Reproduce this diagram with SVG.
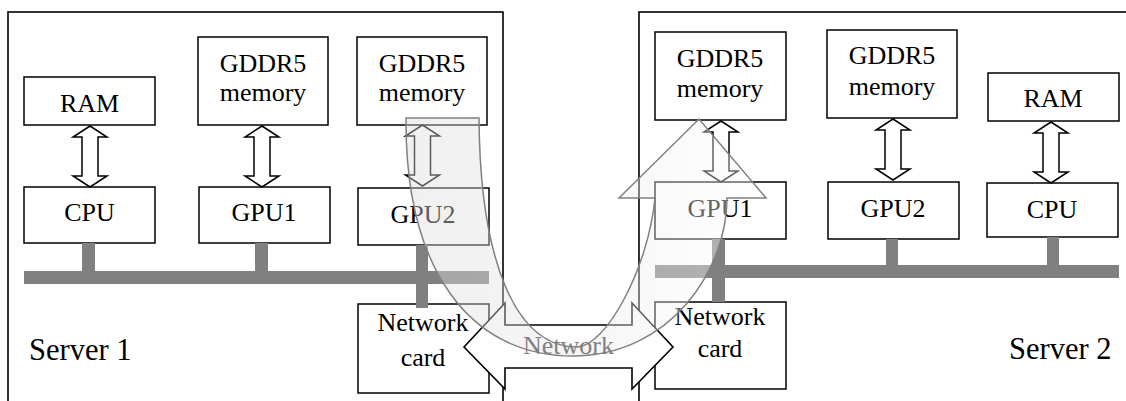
<svg xmlns="http://www.w3.org/2000/svg" width="1126" height="401" viewBox="0 0 1126 401">
  <style>
    .frame { fill: none; stroke: #000; stroke-width: 1.6; }
    .box { fill: #fff; stroke: #000; stroke-width: 1.5; }
    .lbl { font-family: "Liberation Serif", "Times New Roman", serif; font-size: 26px; fill: #000; text-anchor: middle; }
    .srv { font-family: "Liberation Serif", "Times New Roman", serif; font-size: 30.5px; fill: #000; }
    .bus { fill: #808080; }
    .dbl { fill: #fff; stroke: #000; stroke-width: 1.5; stroke-linejoin: miter; }
    .net { fill: #fff; stroke: #000; stroke-width: 1.6; }
    .netlbl { font-family: "Liberation Serif", "Times New Roman", serif; font-size: 26px; fill: #808080; text-anchor: middle; }
    .uturn { fill: url(#uFill); stroke: #808080; stroke-width: 1.5; }
  </style>
  <defs>
    <!-- vertical hollow double-headed arrow, top tip at origin -->
    <path id="vdbl" d="M0,0 L17,11 L8,11 L8,50 L17,50 L0,61 L-17,50 L-8,50 L-8,11 L-17,11 Z"/>
    <linearGradient id="uFill" gradientUnits="userSpaceOnUse" x1="406" y1="0" x2="766" y2="0">
      <stop offset="0" stop-color="#dcdcdc" stop-opacity="0.42"/>
      <stop offset="0.4" stop-color="#e4e4e4" stop-opacity="0.4"/>
      <stop offset="1" stop-color="#ffffff" stop-opacity="0.4"/>
    </linearGradient>
  </defs>

  <!-- server enclosures -->
  <g id="server1">
    <rect class="frame" x="8" y="12" width="495" height="400"/>
    <text class="srv" x="29" y="360">Server 1</text>
  </g>
  <g id="server2">
    <rect class="frame" x="639" y="12" width="500" height="400"/>
    <text class="srv" x="1009" y="359">Server 2</text>
  </g>

  <!-- server 1 components -->
  <g id="s1-ram">
    <rect class="box" x="24" y="77" width="131" height="48"/>
    <text class="lbl" x="89.5" y="112">RAM</text>
  </g>
  <g id="s1-gddr1">
    <rect class="box" x="198" y="37" width="130" height="88"/>
    <text class="lbl" x="263" y="72">GDDR5</text>
    <text class="lbl" x="263" y="101">memory</text>
  </g>
  <g id="s1-gddr2">
    <rect class="box" x="357" y="37" width="130" height="88"/>
    <text class="lbl" x="422" y="72">GDDR5</text>
    <text class="lbl" x="422" y="101">memory</text>
  </g>
  <g id="s1-cpu">
    <rect class="box" x="24" y="187" width="131" height="56"/>
    <text class="lbl" x="89.5" y="221">CPU</text>
  </g>
  <g id="s1-gpu1">
    <rect class="box" x="199" y="187" width="131" height="56"/>
    <text class="lbl" x="264" y="221">GPU1</text>
  </g>
  <g id="s1-gpu2">
    <rect class="box" x="358" y="188" width="131" height="57"/>
    <text class="lbl" x="423" y="223">GPU2</text>
  </g>
  <g id="s1-nic">
    <rect class="box" x="358" y="304" width="131" height="89"/>
    <text class="lbl" x="423" y="331">Network</text>
    <text class="lbl" x="423" y="366">card</text>
  </g>

  <!-- server 2 components -->
  <g id="s2-gddr1">
    <rect class="box" x="655" y="32" width="131" height="88"/>
    <text class="lbl" x="720" y="67">GDDR5</text>
    <text class="lbl" x="720" y="97">memory</text>
  </g>
  <g id="s2-gddr2">
    <rect class="box" x="827" y="30" width="130" height="88"/>
    <text class="lbl" x="892" y="64">GDDR5</text>
    <text class="lbl" x="892" y="95">memory</text>
  </g>
  <g id="s2-ram">
    <rect class="box" x="988" y="73" width="131" height="48"/>
    <text class="lbl" x="1053" y="107">RAM</text>
  </g>
  <g id="s2-gpu1">
    <rect class="box" x="655" y="182" width="131" height="57"/>
    <text class="lbl" x="720" y="217">GPU1</text>
  </g>
  <g id="s2-gpu2">
    <rect class="box" x="828" y="182" width="131" height="57"/>
    <text class="lbl" x="893" y="217">GPU2</text>
  </g>
  <g id="s2-cpu">
    <rect class="box" x="987" y="183" width="131" height="54"/>
    <text class="lbl" x="1052" y="218">CPU</text>
  </g>
  <g id="s2-nic">
    <rect class="box" x="655" y="302" width="131" height="87"/>
    <text class="lbl" x="720" y="325">Network</text>
    <text class="lbl" x="720" y="357">card</text>
  </g>

  <g id="connectors">
    <!-- server 1 system bus and taps -->
    <rect class="bus" x="24" y="271" width="465" height="13"/>
    <rect class="bus" x="82" y="243" width="13" height="28"/>
    <rect class="bus" x="255" y="243" width="13" height="28"/>
    <rect class="bus" x="416" y="245" width="12" height="63"/>
    <!-- server 2 system bus and taps -->
    <rect class="bus" x="655" y="265" width="464" height="13"/>
    <rect class="bus" x="712" y="239" width="13" height="63"/>
    <rect class="bus" x="886" y="239" width="12" height="26"/>
    <rect class="bus" x="1047" y="237" width="12" height="28"/>

    <!-- memory links -->
    <use href="#vdbl" class="dbl" x="90" y="126"/>
    <use href="#vdbl" class="dbl" x="262" y="126"/>
    <use href="#vdbl" class="dbl" x="422.5" y="125"/>
    <use href="#vdbl" class="dbl" x="721" y="121"/>
    <use href="#vdbl" class="dbl" x="893" y="119"/>
    <use href="#vdbl" class="dbl" x="1051" y="122"/>

    <!-- network link between the two cards -->
    <path class="net" d="M464,347 L505,303 L505,325 L632,325 L632,303 L673,347 L632,389 L632,368 L505,368 L505,389 Z"/>

    <!-- data path from GPU2 memory on server 1 to GPU1 on server 2 -->
    <path class="uturn" d="M479,118 C480,260 515,347 577,347 C605,347 648,270 655,198 L619,198 L699,119 L766,198 L727,198 C727,270 670,356 573,356 C470,356 405,270 406,118 Z"/>
    <text class="netlbl" x="568.5" y="354">Network</text>
  </g>
</svg>
